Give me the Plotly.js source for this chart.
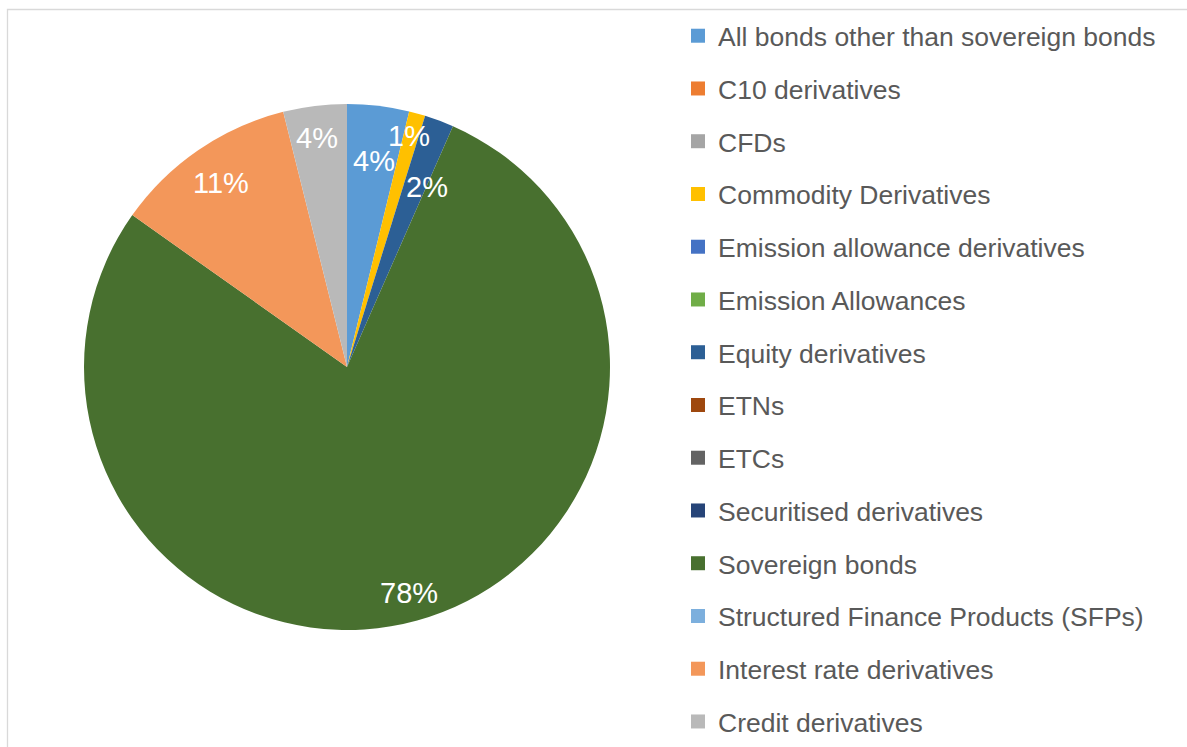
<!DOCTYPE html>
<html>
<head>
<meta charset="utf-8">
<script src="https://cdn.plot.ly/plotly-3.0.1.min.js"></script>
<style>html,body{margin:0;padding:0;background:#fff;}#chart{width:1187px;height:747px;}</style>
</head>
<body>
<div id="chart"></div>
<script>
// ---- data ----
var categories = [
  "All bonds other than sovereign bonds",
  "C10 derivatives",
  "CFDs",
  "Commodity Derivatives",
  "Emission allowance derivatives",
  "Emission Allowances",
  "Equity derivatives",
  "ETNs",
  "ETCs",
  "Securitised derivatives",
  "Sovereign bonds",
  "Structured Finance Products (SFPs)",
  "Interest rate derivatives",
  "Credit derivatives"
];
var shares = [3.8, 0, 0, 1.0, 0, 0, 1.8, 0, 0, 0, 78.2, 0, 11.3, 3.9];

// ---- styles ----
var colors = ["#5b9bd5", "#ed7d31", "#a5a5a5", "#ffc000", "#4472c4", "#70ad47",
              "#2c5f95", "#9e480e", "#636363", "#264478", "#48702f", "#7cafdd",
              "#f3975a", "#b9b9b9"];
// label placement (fraction of radius, angular nudge in degrees) per slice, Excel-like best fit
var labelRadius = [0.79, 0, 0, 0.91, 0, 0, 0.75, 0, 0, 0, 0.89, 0, 0.85, 0.88];
var labelNudge  = [0.5, 0, 0, -0.5, 0, 0, 3.5, 0, 0, 0, 0, 0, 0, -0.5];

// ---- geometry ----
var W = 1187, H = 747;
var cx = 347, cy = 367, R = 263;
var domX = [(cx - R) / W, (cx + R) / W];
var domY = [1 - (cy + R) / H, 1 - (cy - R) / H];

var traces = [{
  type: "pie",
  labels: categories,
  values: shares,
  sort: false,
  direction: "clockwise",
  rotation: 0,
  textinfo: "none",
  hoverinfo: "label+percent",
  marker: {colors: colors, line: {width: 0}},
  domain: {x: domX, y: domY},
  showlegend: false
}];

// legend entries (one per category, same colours)
categories.forEach(function (c, i) {
  traces.push({
    type: "scatter", mode: "markers",
    x: [null], y: [null],
    name: c, legendgroup: "g" + i,
    marker: {symbol: "square", size: 14, color: colors[i]},
    hoverinfo: "skip"
  });
});

// percentage labels placed along each slice's mid-angle
var total = shares.reduce(function (a, b) { return a + b; }, 0);
var annotations = [];
var cum = 0;
shares.forEach(function (v, i) {
  if (v > 0) {
    var mid = (cum + v / 2) / total * 2 * Math.PI + labelNudge[i] * Math.PI / 180;
    var rr = labelRadius[i] * R;
    var px = cx + rr * Math.sin(mid);
    var py = cy - rr * Math.cos(mid);
    annotations.push({
      xref: "paper", yref: "paper",
      x: px / W, y: 1 - py / H,
      xanchor: "center", yanchor: "middle",
      text: Math.round(v / total * 100) + "%",
      showarrow: false,
      font: {family: "Liberation Sans, Arial, sans-serif", size: 29, color: "#ffffff"}
    });
  }
  cum += v;
});

var layout = {
  width: W, height: H,
  margin: {l: 0, r: 0, t: 0, b: 0},
  paper_bgcolor: "#ffffff",
  plot_bgcolor: "rgba(0,0,0,0)",
  xaxis: {visible: false, domain: [0, 1]},
  yaxis: {visible: false, domain: [0, 1]},
  showlegend: true,
  legend: {
    x: 678 / W, xanchor: "left",
    y: 1 - 12 / H, yanchor: "top",
    font: {family: "Liberation Sans, Arial, sans-serif", size: 26.5, color: "#595959"},
    tracegroupgap: 15.3,
    traceorder: "grouped",
    bgcolor: "rgba(0,0,0,0)",
    maxheight: 900
  },
  annotations: annotations,
  shapes: [{
    type: "rect", xref: "paper", yref: "paper",
    x0: 7.5 / W, x1: 1.05, y0: -0.05, y1: 1 - 9.5 / H,
    line: {color: "#d9d9d9", width: 1.3}
  }]
};

Plotly.newPlot("chart", traces, layout, {displayModeBar: false, staticPlot: true});
</script>
</body>
</html>
